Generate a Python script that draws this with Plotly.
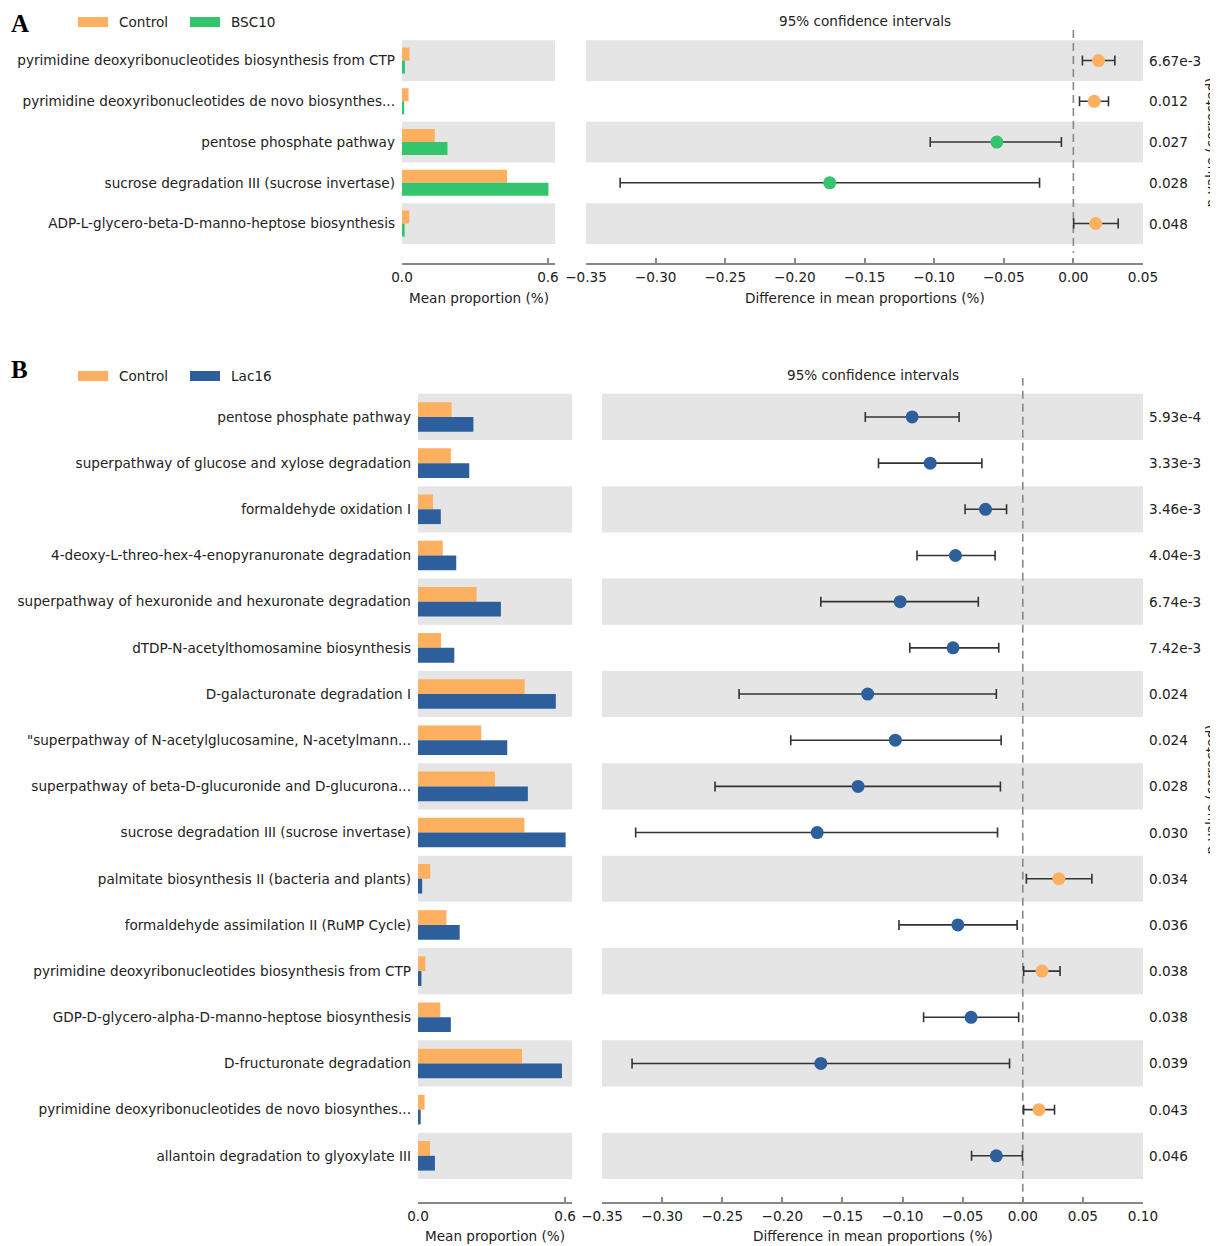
import plotly.graph_objects as go

# The page adds an 8px body margin; the figure is shifted accordingly so it lines up with the window.
OFF = 8
W, H = 1218 - OFF, 1246 - OFF

# ---------------- DATA ----------------
# Panel A
a_labels = [
    "pyrimidine deoxyribonucleotides biosynthesis from CTP",
    "pyrimidine deoxyribonucleotides de novo biosynthes...",
    "pentose phosphate pathway",
    "sucrose degradation III (sucrose invertase)",
    "ADP-L-glycero-beta-D-manno-heptose biosynthesis",
]
a_control = [0.031, 0.027, 0.135, 0.432, 0.030]
a_treat = [0.012, 0.009, 0.187, 0.602, 0.011]
a_diff = [0.018, 0.015, -0.055, -0.175, 0.016]
a_ci_low = [0.0065, 0.0044, -0.1028, -0.3255, 0.0002]
a_ci_high = [0.0298, 0.0252, -0.0086, -0.0243, 0.0322]
a_pvals = ["6.67e-3", "0.012", "0.027", "0.028", "0.048"]
a_group = "BSC10"

# Panel B
b_labels = [
    "pentose phosphate pathway",
    "superpathway of glucose and xylose degradation",
    "formaldehyde oxidation I",
    "4-deoxy-L-threo-hex-4-enopyranuronate degradation",
    "superpathway of hexuronide and hexuronate degradation",
    "dTDP-N-acetylthomosamine biosynthesis",
    "D-galacturonate degradation I",
    "\"superpathway of N-acetylglucosamine, N-acetylmann...",
    "superpathway of beta-D-glucuronide and D-glucurona...",
    "sucrose degradation III (sucrose invertase)",
    "palmitate biosynthesis II (bacteria and plants)",
    "formaldehyde assimilation II (RuMP Cycle)",
    "pyrimidine deoxyribonucleotides biosynthesis from CTP",
    "GDP-D-glycero-alpha-D-manno-heptose biosynthesis",
    "D-fructuronate degradation",
    "pyrimidine deoxyribonucleotides de novo biosynthes...",
    "allantoin degradation to glyoxylate III",
]
b_control = [0.137, 0.134, 0.061, 0.101, 0.239, 0.094, 0.435, 0.258, 0.314, 0.434,
             0.050, 0.116, 0.030, 0.091, 0.424, 0.027, 0.049]
b_treat = [0.226, 0.209, 0.093, 0.156, 0.338, 0.148, 0.562, 0.364, 0.448, 0.602,
           0.017, 0.170, 0.014, 0.134, 0.587, 0.011, 0.069]
b_diff = [-0.092, -0.077, -0.031, -0.056, -0.102, -0.058, -0.129, -0.106, -0.137, -0.171,
          0.030, -0.054, 0.016, -0.043, -0.168, 0.0135, -0.022]
b_ci_low = [-0.131, -0.120, -0.048, -0.088, -0.168, -0.094, -0.236, -0.193, -0.256, -0.322,
            0.003, -0.103, 0.0007, -0.0825, -0.325, 0.0007, -0.0426]
b_ci_high = [-0.053, -0.034, -0.0135, -0.023, -0.037, -0.020, -0.022, -0.018, -0.0186, -0.021,
             0.0575, -0.0047, 0.031, -0.0034, -0.011, 0.0264, -0.0003]
b_pvals = ["5.93e-4", "3.33e-3", "3.46e-3", "4.04e-3", "6.74e-3", "7.42e-3", "0.024", "0.024",
           "0.028", "0.030", "0.034", "0.036", "0.038", "0.038", "0.039", "0.043", "0.046"]
b_group = "Lac16"

bar_ticks = [0.0, 0.6]
bar_ticktext = ["0.0", "0.6"]
a_ci_ticks = [-0.35, -0.30, -0.25, -0.20, -0.15, -0.10, -0.05, 0.00, 0.05]
b_ci_ticks = [-0.35, -0.30, -0.25, -0.20, -0.15, -0.10, -0.05, 0.00, 0.05, 0.10]

# ---------------- STYLE ----------------
C_CTRL = "#FDB060"
C_GREEN = "#34C46E"
C_BLUE = "#2D5F9C"
BAND = "#E5E5E5"
AXC = "#888888"
FONT = "DejaVu Sans"
FS = 13.6
TXT = "#222222"


def px_x(p):
    return (p - OFF) / W


def px_y(p):
    return 1 - (p - OFF) / H


def fmt_tick(v):
    s = f"{v:.2f}"
    return s.replace("-", "\u2212")


fig = go.Figure()
shapes = []
annotations = []

panels = [
    dict(labels=a_labels, ctrl=a_control, treat=a_treat, diff=a_diff, lo=a_ci_low, hi=a_ci_high,
         pv=a_pvals, group=a_group, color=C_GREEN, xb="x", yb="y", xc="x2", yc="y2",
         bar_dom=(402, 555), ci_dom=(586, 1143), top=30, bottom=263, yr=(-0.75, 4.969),
         dash=(-0.75, 4.72), ci_range=[-0.35, 0.05], ci_ticks=a_ci_ticks, bar_range=[0, 0.629],
         leg_y=22, letter="A", letter_y=24, ptitle_y=143, ptitle_x=1210.5, xtitle_y=298),
    dict(labels=b_labels, ctrl=b_control, treat=b_treat, diff=b_diff, lo=b_ci_low, hi=b_ci_high,
         pv=b_pvals, group=b_group, color=C_BLUE, xb="x3", yb="y3", xc="x4", yc="y4",
         bar_dom=(418, 572), ci_dom=(602, 1143), top=377.7, bottom=1202, yr=(-0.85, 17.0),
         dash=(-0.85, 16.85), ci_range=[-0.35, 0.10], ci_ticks=b_ci_ticks, bar_range=[0, 0.628],
         leg_y=376, letter="B", letter_y=369, ptitle_y=790, ptitle_x=1210.5, xtitle_y=1236),
]

for p in panels:
    n = len(p["labels"])
    pos = list(range(n))
    # bars
    fig.add_trace(go.Bar(x=p["ctrl"], y=pos, orientation="h", marker=dict(color=C_CTRL, line=dict(width=0)),
                         width=0.32, offset=-0.32, xaxis=p["xb"], yaxis=p["yb"], showlegend=False,
                         name="Control"))
    fig.add_trace(go.Bar(x=p["treat"], y=pos, orientation="h", marker=dict(color=p["color"], line=dict(width=0)),
                         width=0.32, offset=0.0, xaxis=p["xb"], yaxis=p["yb"], showlegend=False,
                         name=p["group"]))
    # CI points
    colors = [C_CTRL if d > 0 else p["color"] for d in p["diff"]]
    plus = [h - d for h, d in zip(p["hi"], p["diff"])]
    minus = [d - l for l, d in zip(p["lo"], p["diff"])]
    fig.add_trace(go.Scatter(x=p["diff"], y=pos, mode="markers",
                             marker=dict(color=colors, size=13, line=dict(width=0)),
                             error_x=dict(type="data", symmetric=False, array=plus, arrayminus=minus,
                                          color="#333333", thickness=1.6, width=5),
                             xaxis=p["xc"], yaxis=p["yc"], showlegend=False))
    # bands
    for i in range(0, n, 2):
        for xr, yr in ((p["xb"], p["yb"]), (p["xc"], p["yc"])):
            shapes.append(dict(type="rect", xref=f"{xr} domain", yref=yr, x0=0, x1=1,
                               y0=i - 0.5, y1=i + 0.5, fillcolor=BAND, line=dict(width=0),
                               layer="below"))
    # zero dashed line
    shapes.append(dict(type="line", xref=p["xc"], yref=p["yc"], x0=0, x1=0,
                       y0=p["dash"][0], y1=p["dash"][1],
                       line=dict(color="#888888", width=1.6, dash="8px,5px"), layer="below"))
    # p-values
    for i, t in enumerate(p["pv"]):
        annotations.append(dict(text=t, xref=f"{p['xc']} domain", yref=p["yc"], x=1, y=i,
                                xanchor="left", yanchor="middle", xshift=4, showarrow=False,
                                font=dict(family=FONT, size=FS, color=TXT)))
    annotations.append(dict(text="p-value (corrected)", xref="paper", yref="paper",
                            x=px_x(p["ptitle_x"]), y=px_y(p["ptitle_y"]), textangle=-90,
                            xanchor="center", yanchor="middle", showarrow=False,
                            font=dict(family=FONT, size=FS, color=TXT)))
    # titles
    annotations.append(dict(text="95% confidence intervals", xref=f"{p['xc']} domain", yref="paper",
                            x=0.5, y=px_y(p["leg_y"] - 1), xanchor="center", yanchor="middle",
                            showarrow=False, font=dict(family=FONT, size=FS, color=TXT)))
    annotations.append(dict(text="Mean proportion (%)", xref=f"{p['xb']} domain", yref="paper",
                            x=0.5, y=px_y(p["xtitle_y"]), xanchor="center", yanchor="middle",
                            showarrow=False, font=dict(family=FONT, size=FS, color=TXT)))
    annotations.append(dict(text="Difference in mean proportions (%)", xref=f"{p['xc']} domain",
                            yref="paper", x=0.5, y=px_y(p["xtitle_y"]), xanchor="center",
                            yanchor="middle", showarrow=False, font=dict(family=FONT, size=FS, color=TXT)))
    # panel letter
    annotations.append(dict(text=f"<b>{p['letter']}</b>", xref="paper", yref="paper",
                            x=px_x(9), y=px_y(p["letter_y"]), xanchor="left", yanchor="middle",
                            showarrow=False, font=dict(family="Liberation Serif", size=25, color="#000")))
    # legend swatches
    ly = p["leg_y"]
    for (x0, x1, col, tx, name) in ((78, 108, C_CTRL, 117, "Control"), (190, 220, p["color"], 229, p["group"])):
        shapes.append(dict(type="rect", xref="paper", yref="paper", x0=px_x(x0), x1=px_x(x1),
                           y0=px_y(ly + 5), y1=px_y(ly - 5), fillcolor=col, line=dict(width=0)))
        annotations.append(dict(text=name, xref="paper", yref="paper", x=px_x(tx), y=px_y(ly),
                                xanchor="left", yanchor="middle", showarrow=False,
                                font=dict(family=FONT, size=FS, color=TXT)))

    ydom = [px_y(p["bottom"]), px_y(p["top"])]
    axis_common = dict(showline=True, linecolor=AXC, linewidth=2, ticks="inside", ticklen=5,
                       tickwidth=1.5, tickcolor=AXC, showgrid=False, zeroline=False,
                       automargin=False,
                       tickfont=dict(family=FONT, size=FS, color=TXT), ticklabelstandoff=1)
    xb_name = "xaxis" if p["xb"] == "x" else "xaxis" + p["xb"][1:]
    xc_name = "xaxis" + p["xc"][1:]
    yb_name = "yaxis" if p["yb"] == "y" else "yaxis" + p["yb"][1:]
    yc_name = "yaxis" + p["yc"][1:]
    fig.layout[xb_name] = dict(domain=[px_x(p["bar_dom"][0]), px_x(p["bar_dom"][1])],
                               range=p["bar_range"], anchor=p["yb"], tickvals=bar_ticks,
                               ticktext=bar_ticktext, **axis_common)
    fig.layout[xc_name] = dict(domain=[px_x(p["ci_dom"][0]), px_x(p["ci_dom"][1])],
                               range=p["ci_range"], anchor=p["yc"], tickvals=p["ci_ticks"],
                               ticktext=[fmt_tick(v) for v in p["ci_ticks"]], **axis_common)
    yrange = [p["yr"][1], p["yr"][0]]
    fig.layout[yb_name] = dict(domain=ydom, range=yrange, anchor=p["xb"], tickvals=pos,
                               ticktext=p["labels"], ticks="", showline=False, showgrid=False,
                               zeroline=False, ticklabelstandoff=6, automargin=False,
                               tickfont=dict(family=FONT, size=FS, color=TXT))
    fig.layout[yc_name] = dict(domain=ydom, range=yrange, anchor=p["xc"], showticklabels=False,
                               ticks="", showline=False, showgrid=False, zeroline=False,
                               automargin=False)

fig.update_layout(width=W, height=H, margin=dict(l=0, r=0, t=0, b=0, autoexpand=False),
                  autosize=False,
                  paper_bgcolor="white", plot_bgcolor="rgba(0,0,0,0)",
                  shapes=shapes, annotations=annotations, showlegend=False,
                  font=dict(family=FONT, size=FS, color=TXT))

fig.write_html("out.html")
